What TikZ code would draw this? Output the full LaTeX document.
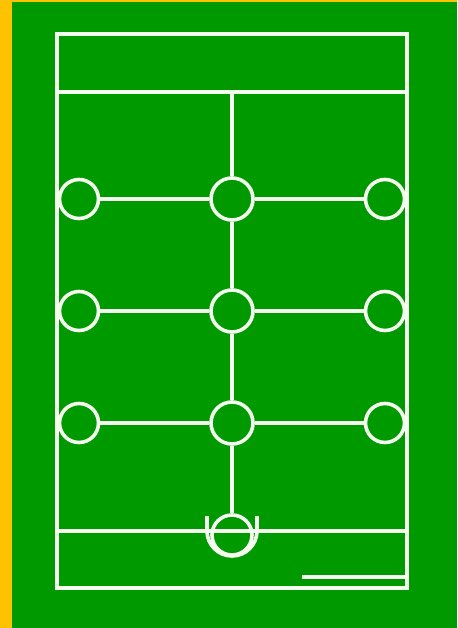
\documentclass[tikz,border=0pt]{standalone}
\definecolor{pitch}{HTML}{009A00}
\definecolor{edge}{HTML}{FFC200}
\definecolor{chalk}{HTML}{F4FFF0}
\tikzset{
  lines/.style={draw=chalk, line width=3.6pt},
  ring/.style={circle, draw=chalk, line width=3.6pt, minimum size=39pt, inner sep=0pt},
}
\begin{document}
\begin{tikzpicture}[x=1pt,y=-1pt]
\useasboundingbox (0,0) rectangle (457,628);
\fill[edge] (0,0) rectangle (457,628);
\fill[pitch] (12,2) rectangle (457,628);
% outer field
\draw[lines] (57,34) rectangle (407,588);
\coordinate (tl) at (57,92);
\coordinate (tr) at (407,92);
\coordinate (tm) at (232,92);
\draw[lines] (tl) -- (tr);
\coordinate (bl) at (57,531);
\coordinate (br) at (407,531);
\draw[lines] (bl) -- (br);
% short line bottom right
\coordinate (sa) at (302,577);
\coordinate (sb) at (405,577);
\draw[lines] (sa) -- (sb);
% circles
\foreach \r/\y in {1/199,2/311,3/423}{
  \node[ring] (l\r) at (79,\y) {};
  \node[ring, minimum size=42pt] (c\r) at (232,\y) {};
  \node[ring] (r\r) at (385,\y) {};
  \draw[lines] (l\r) -- (c\r);
  \draw[lines] (c\r) -- (r\r);
}
% goal
\node[ring, minimum size=40pt] (g) at (232,535) {};
\draw[lines] (tm) -- (c1);
\draw[lines] (c1) -- (c2);
\draw[lines] (c2) -- (c3);
\draw[lines] (c3) -- (g);
\draw[lines] (207,516) -- (207,531) arc[start angle=180, end angle=0, radius=25] -- (257,516);
\end{tikzpicture}
\end{document}
